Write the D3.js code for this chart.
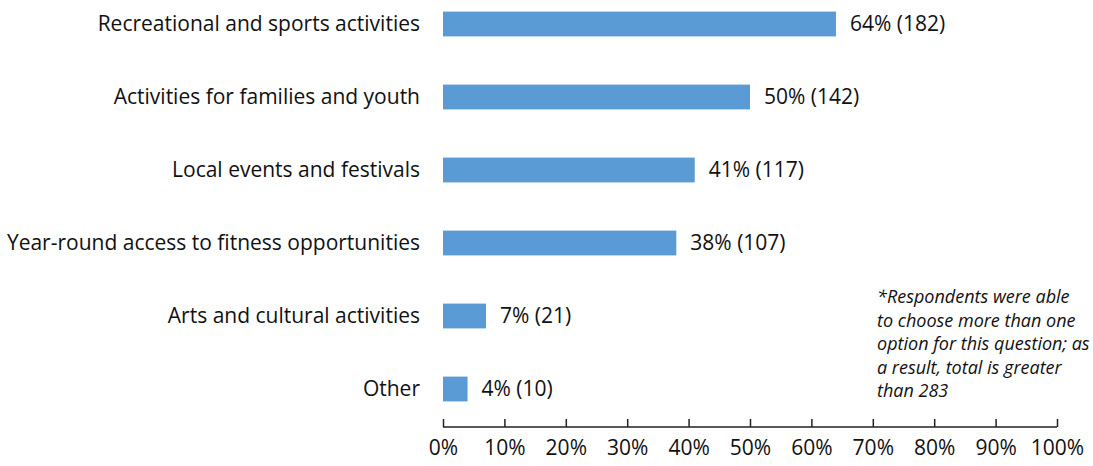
<!DOCTYPE html>
<html><head><meta charset="utf-8">
<script src="https://cdn.jsdelivr.net/npm/d3@7"></script>
<style>body{margin:0;background:#fff;}svg{display:block;}</style>
</head><body>
<script>
const categories = ["Recreational and sports activities","Activities for families and youth","Local events and festivals","Year-round access to fitness opportunities","Arts and cultural activities","Other"];
const percents = [64, 50, 41, 38, 7, 4];
const counts = [182, 142, 117, 107, 21, 10];
const tickValues = [0,10,20,30,40,50,60,70,80,90,100];
const noteLines = ["*Respondents were able","to choose more than one","option for this question; as","a result, total is greater","than 283"];

const W = 1093, H = 466;
const svg = d3.select("body").append("svg").attr("width", W).attr("height", H);
const font = "'Open Sans', sans-serif";
const x = d3.scaleLinear().domain([0,100]).range([443, 1057]);
const y = d3.scaleBand().domain(categories).range([-12.5, 425.5]).paddingInner(0.66).paddingOuter(0.33);

svg.selectAll("rect.bar").data(categories).join("rect")
  .attr("x", x(0)).attr("y", d => y(d))
  .attr("width", (d,i) => x(percents[i]) - x(0))
  .attr("height", y.bandwidth())
  .attr("fill", "#5b9bd5");

svg.selectAll("text.cat").data(categories).join("text")
  .attr("x", 420).attr("y", d => y(d) + y.bandwidth()/2)
  .attr("dy", "0.35em").attr("text-anchor", "end")
  .style("font-family", font).style("font-size", "21px").attr("fill", "#111")
  .text(d => d);

svg.selectAll("text.val").data(categories).join("text")
  .attr("x", (d,i) => x(percents[i]) + 14).attr("y", d => y(d) + y.bandwidth()/2)
  .attr("dy", "0.35em")
  .style("font-family", font).style("font-size", "21px").attr("fill", "#111")
  .text((d,i) => `${percents[i]}% (${counts[i]})`);

const axis = d3.axisTop(x).tickValues(tickValues).tickSize(8).tickFormat(d => d + "%");
const g = svg.append("g").attr("transform", "translate(0,427)").call(axis);
g.select(".domain").attr("stroke", "#222").attr("stroke-width", 1.5).attr("d", `M${x(0)},0H${x(100)}`);
g.selectAll(".tick line").attr("stroke", "#222").attr("stroke-width", 1.5);
g.selectAll(".tick text").attr("y", 21).attr("dy", "0.35em")
  .style("font-family", font).style("font-size", "21px").attr("fill", "#111");

svg.append("g").selectAll("text").data(noteLines).join("text")
  .attr("x", 877).attr("y", (d,i) => 303 + i*23.5)
  .style("font-family", font).style("font-size", "18px").style("font-style", "italic").attr("fill", "#111")
  .text(d => d);
</script>
</body></html>
